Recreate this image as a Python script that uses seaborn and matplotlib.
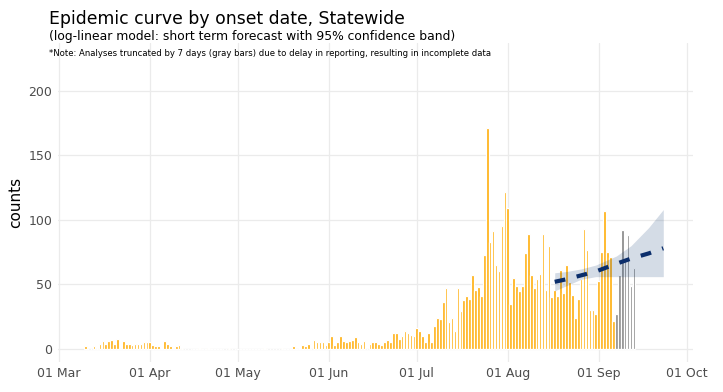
import matplotlib
matplotlib.use("Agg")
import matplotlib.pyplot as plt
import matplotlib.dates as mdates
import seaborn as sns
import pandas as pd

# daily case counts by onset date, starting 10 Mar
first_day = "2020-03-10"
daily_counts = [
    2, 0, 0, 2, 1, 4, 6, 4, 6, 7, 4, 8, 0, 6, 4, 4, 3, 4, 4, 4, 5, 5,      # Mar 10-31
    5, 3, 2, 2, 1, 6, 4, 2, 0, 2, 3, 1, 0, 0, 0, 0, 0, 1, 0, 0, 1, 0,      # Apr 1-22
    0, 0, 0, 0, 0, 1, 0, 0,                                                # Apr 23-30
    0, 0, 0, 0, 0, 0, 0, 0, 0, 1, 0, 0, 0, 0, 0, 1, 0, 0, 0, 2, 0, 1,      # May 1-22
    3, 2, 4, 0, 7, 5, 5, 5, 3,                                             # May 23-31
    5, 10, 3, 5, 10, 6, 5, 6, 7, 9, 5, 4, 6, 0, 4, 5, 5, 4, 3, 5, 7, 5,    # Jun 1-22
    12, 12, 8, 10, 14, 12, 11, 10,                                         # Jun 23-30
    16, 14, 10, 5, 12, 5, 18, 24, 23, 36, 47, 21, 24, 14, 47, 29, 38, 41,  # Jul 1-18
    39, 57, 46, 48, 41, 73, 171, 83, 91, 65, 60, 95, 122,                  # Jul 19-31
    109, 35, 55, 49, 45, 49, 74, 89, 57, 47, 54, 58, 89, 46, 80, 40,       # Aug 1-16
    46, 41, 61, 43, 65, 52, 42, 24, 39, 54, 93, 77, 30, 30, 27,            # Aug 17-31
    53, 75, 107, 75, 71, 22,                                               # Sep 1-6
]
# last 7 days, truncated because of reporting delay (gray)
truncated_counts = [27, 57, 92, 70, 88, 49, 63]

# log-linear forecast with 95% band
fc_dates = ["2020-08-17", "2020-08-21", "2020-08-26", "2020-08-31",
            "2020-09-07", "2020-09-12", "2020-09-18", "2020-09-23"]
fc_fit = [52, 54, 57, 60, 66, 70, 74, 78]
fc_lower = [45, 49, 54, 56, 56, 56, 56, 56]
fc_upper = [59, 60, 62, 65, 72, 80, 94, 108]

bar_color = "#FFB31A"
gray_color = "#8C8C8C"
line_color = "#0B2E6B"

days = pd.date_range(first_day, periods=len(daily_counts), freq="D")
trunc_days = pd.date_range(days[-1] + pd.Timedelta(days=1),
                           periods=len(truncated_counts), freq="D")
fc = pd.DataFrame({"date": pd.to_datetime(fc_dates), "fit": fc_fit,
                   "lower": fc_lower, "upper": fc_upper})

sns.set_theme(style="whitegrid")
plt.rcParams["font.family"] = ["DejaVu Sans"]

fig, ax = plt.subplots(figsize=(7.23, 3.92), dpi=100)
fig.subplots_adjust(left=0.080, right=0.958, top=0.890, bottom=0.077)

ax.bar(days, daily_counts, width=0.9, color=bar_color,
       edgecolor="white", linewidth=0.9, zorder=2)
ax.bar(trunc_days, truncated_counts, width=0.9, color=gray_color,
       edgecolor="white", linewidth=0.9, zorder=2)

ax.fill_between(fc["date"], fc["lower"], fc["upper"],
                color="#00306C", alpha=0.17, linewidth=0, zorder=3)
sns.lineplot(data=fc, x="date", y="fit", ax=ax, color=line_color,
             linewidth=3, zorder=4)
ax.lines[-1].set_dashes((2.6, 2.8))

ax.set_xlim(pd.Timestamp("2020-02-29 16:00"), pd.Timestamp("2020-10-03"))
ax.set_ylim(-10, 237)
ax.set_yticks([0, 50, 100, 150, 200])
ax.xaxis.set_major_locator(mdates.MonthLocator())
ax.xaxis.set_major_formatter(mdates.DateFormatter("%d %b"))

ax.grid(True, color="#EBEBEB", linewidth=0.9)
ax.set_axisbelow(True)
for s in ax.spines.values():
    s.set_visible(False)
ax.tick_params(length=0, labelsize=9, colors="#4D4D4D", pad=4)
ax.set_xlabel("")
ax.set_ylabel("counts", fontsize=11, color="black", labelpad=4)

fig.text(0.068, 0.938, "Epidemic curve by onset date, Statewide",
         fontsize=12.4, va="baseline", ha="left", color="black")
fig.text(0.068, 0.899, "(log-linear model: short term forecast with 95% confidence band)",
         fontsize=8.9, va="baseline", ha="left", color="black")
fig.text(0.068, 0.858, "*Note: Analyses truncated by 7 days (gray bars) due to delay in reporting, resulting in incomplete data",
         fontsize=6.15, va="baseline", ha="left", color="black")

plt.savefig("out.png", dpi=100)
